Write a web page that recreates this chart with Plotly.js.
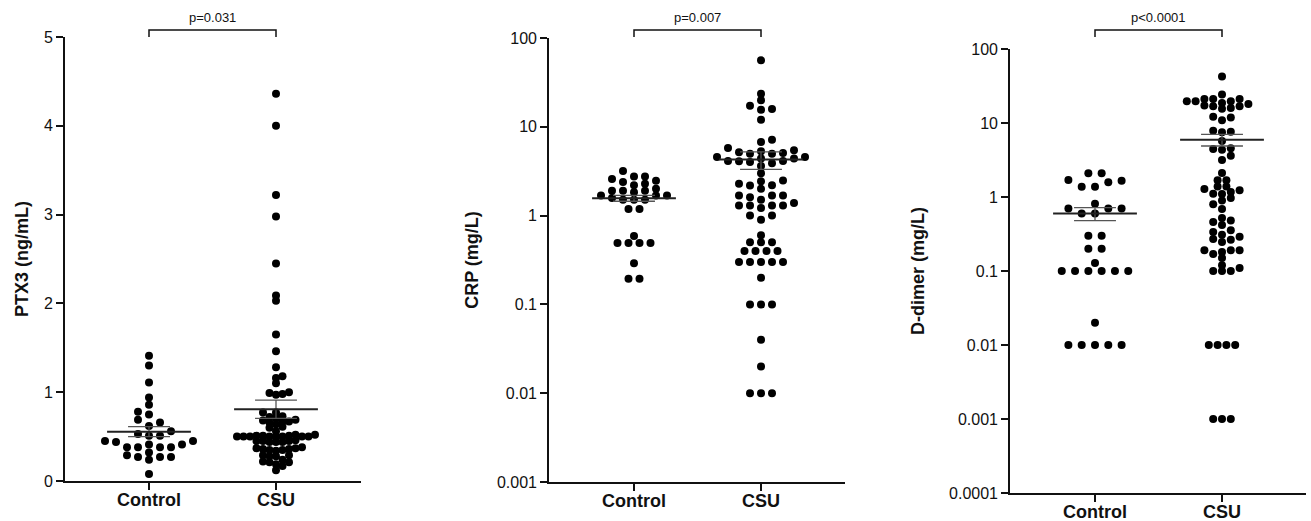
<!DOCTYPE html>
<html>
<head>
<meta charset="utf-8">
<script src="https://cdn.plot.ly/plotly-3.0.1.min.js"></script>
<style>html,body{margin:0;padding:0;background:#fff;}#chart{width:1311px;height:521px;}</style>
</head>
<body>
<div id="chart"></div>
<script>
// ---------------- data ----------------
const groups = ["Control", "CSU"];

const ptx3Control = [1.41, 1.30, 1.11, 0.94, 0.86, 0.78, 0.75, 0.69, 0.66, 0.62, 0.56, 0.53, 0.51, 0.51, 0.45, 0.45, 0.44, 0.41, 0.41, 0.38, 0.38, 0.38, 0.38, 0.32, 0.29, 0.27, 0.27, 0.27, 0.24, 0.08];
const ptx3CSU = [4.36, 4.00, 3.22, 2.98, 2.45, 2.09, 2.03, 1.65, 1.46, 1.28, 1.18, 1.16, 1.10, 1.00, 0.99, 0.98, 0.97, 0.77, 0.77, 0.73, 0.72, 0.71, 0.69, 0.68, 0.67, 0.67, 0.66, 0.64, 0.61, 0.60, 0.56,
  0.52, 0.52, 0.51, 0.51, 0.51, 0.50, 0.50, 0.50, 0.50, 0.50, 0.50, 0.50, 0.50,
  0.46, 0.45, 0.45, 0.45, 0.44, 0.44, 0.44,
  0.38, 0.37, 0.37, 0.36, 0.36, 0.35, 0.35, 0.34,
  0.29, 0.29, 0.28, 0.28,
  0.24, 0.22, 0.21, 0.21, 0.19, 0.17, 0.12];

const crpControl = [3.18, 2.76, 2.76, 2.58, 2.47, 2.39, 2.29, 2.19, 2.01, 1.91, 1.91, 1.91, 1.83, 1.68, 1.68, 1.68, 1.58, 1.51, 1.51, 1.51, 1.19, 1.19, 0.59, 0.49, 0.49, 0.49, 0.49, 0.29, 0.195, 0.195];
const crpCSU = [56, 23.6, 19.9, 17.3, 15.9, 15.6, 12.0, 7.16, 6.74, 5.77, 5.43, 5.3, 5.17, 5.07, 4.98, 4.98, 4.57, 4.57, 4.39, 4.39, 4.12, 4.12, 4.09, 4.02, 3.88, 3.62, 3.0,
  2.49, 2.43, 2.29, 2.19, 2.18, 2.0, 1.68, 1.68, 1.68, 1.61, 1.51, 1.39, 1.30, 1.30, 1.30, 1.30, 1.22, 1.0, 1.0, 0.9,
  0.6, 0.5, 0.5, 0.5, 0.4, 0.4, 0.4, 0.4, 0.3, 0.3, 0.3, 0.3, 0.3, 0.2, 0.1, 0.1, 0.1, 0.04, 0.02, 0.01, 0.01, 0.01];

const ddControl = [2.09, 2.09, 1.7, 1.66, 1.58, 1.38, 1.38, 0.81, 0.7, 0.7, 0.7, 0.6, 0.6, 0.3, 0.3, 0.2, 0.2, 0.128, 0.1, 0.1, 0.1, 0.1, 0.1, 0.1, 0.02, 0.01, 0.01, 0.01, 0.01, 0.01];
const ddCSU = [42.6, 24.2, 21.1, 21.1, 21.1, 19.6, 19.6, 19.6, 18.6, 18.1, 17.3, 16.9, 16.9, 15.9, 15.6, 12.1, 11.9, 10.9, 7.87, 7.63, 7.47, 5.7, 4.55, 4.46, 4.36, 3.62, 3.17, 2.11,
  1.68, 1.68, 1.39, 1.39, 1.28, 1.23, 1.17, 1.11, 1.10, 0.97, 0.9, 0.8, 0.69, 0.52, 0.48, 0.46, 0.42, 0.355, 0.336, 0.31, 0.29, 0.27, 0.265, 0.246,
  0.19, 0.19, 0.19, 0.18, 0.17, 0.15, 0.12, 0.11, 0.1, 0.1, 0.1, 0.01, 0.01, 0.01, 0.01, 0.001, 0.001, 0.001];

// mean and SEM
const ptx3Mean = [0.556, 0.808], ptx3Sem = [0.056, 0.103];
const crpMean = [1.57, 4.27], crpSem = [0.12, 0.95];
const ddMean = [0.60, 5.96], ddSem = [0.12, 1.07];

const pValues = ["p=0.031", "p=0.007", "p<0.0001"];
const yTitles = ["PTX3 (ng/mL)", "CRP (mg/L)", "D-dimer (mg/L)"];
const logTicks = [0.0001, 0.001, 0.01, 0.1, 1, 10, 100];
const logTickText = ["0.0001", "0.001", "0.01", "0.1", "1", "10", "100"];

// ---------------- layout geometry ----------------
const W = 1311, H = 521;
const plotH = 444;           // plot height in px
const pxPerCat = 127;        // px between categories
const FONT = "Liberation Sans, Arial, Helvetica, sans-serif";

// Prism-like scatter-dot arrangement: offsets on a half-spacing grid, computed in pixels
function swarm(values, yPx, d, hy) {
  const n = values.length;
  const order = values.map((v, i) => i).sort((a, b) => values[a] - values[b]);
  const xs = new Array(n).fill(0), ys = values.map(yPx);
  const placedIdx = [];
  const collides = (x, y, skip) => {
    for (const j of placedIdx) {
      if (skip && skip.has(j)) continue;
      if (Math.abs(ys[j] - y) < hy && Math.abs(xs[j] - x) < d * 0.99) return true;
    }
    return false;
  };
  order.forEach(i => {
    const y = ys[i];
    let sum = 0;
    placedIdx.forEach(j => { if (Math.abs(ys[j] - y) < 2 * d) sum += xs[j]; });
    const pref = sum > 0 ? -1 : 1;
    for (let s = 0; s < 400; s++) {
      const cands = s === 0 ? [0] : [pref * s, -pref * s];
      let found = false;
      for (const c of cands) {
        const x = c * d / 2;
        if (!collides(x, y)) { xs[i] = x; found = true; break; }
      }
      if (found) break;
    }
    placedIdx.push(i);
  });
  // re-centre groups of identical values
  const byVal = {};
  order.forEach(i => { (byVal[values[i]] = byVal[values[i]] || []).push(i); });
  Object.values(byVal).forEach(g => {
    if (g.length < 2) return;
    const mean = g.reduce((a, i) => a + xs[i], 0) / g.length;
    const shift = -Math.round(mean / (d / 2)) * (d / 2);
    if (shift === 0) return;
    const skip = new Set(g);
    const ok = g.every(i => !collides(xs[i] + shift, ys[i], skip));
    if (ok) g.forEach(i => { xs[i] += shift; });
  });
  return xs;
}

const panels = [
  {data: [ptx3Control, ptx3CSU], mean: ptx3Mean, sem: ptx3Sem, yPx: v => v * plotH / 5, d: [11, 6.5], hy: [7, 4.5], ax: ""},
  {data: [crpControl, crpCSU], mean: crpMean, sem: crpSem, yPx: v => (Math.log10(v) + 3) * plotH / 5, d: [11, 11], hy: [6.5, 6.5], ax: "2"},
  {data: [ddControl, ddCSU], mean: ddMean, sem: ddSem, yPx: v => (Math.log10(v) + 4) * plotH / 6, d: [13.3, 8.8], hy: [7, 5.5], ax: "3"}
];

const traces = [];
panels.forEach(p => {
  const xa = "x" + p.ax, ya = "y" + p.ax;
  p.data.forEach((vals, g) => {
    const offs = swarm(vals, p.yPx, p.d[g], p.hy[g]);
    traces.push({
      type: "scatter", mode: "markers", xaxis: xa, yaxis: ya,
      x: offs.map(o => g + o / pxPerCat), y: vals,
      marker: {color: "#000", size: 8, line: {width: 0}},
      hoverinfo: "y", showlegend: false
    });
  });
  // SEM
  const sx = [], sy = [];
  p.mean.forEach((m, g) => {
    const hi = m + p.sem[g], lo = m - p.sem[g];
    sx.push(g - 0.165, g + 0.165, null, g - 0.165, g + 0.165, null, g, g, null);
    sy.push(hi, hi, null, lo, lo, null, lo, hi, null);
  });
  traces.push({type: "scatter", mode: "lines", xaxis: xa, yaxis: ya, x: sx, y: sy,
    line: {color: "#555", width: 1.3}, hoverinfo: "skip", showlegend: false});
  // mean
  const mx = [], my = [];
  p.mean.forEach((m, g) => { mx.push(g - 0.33, g + 0.33, null); my.push(m, m, null); });
  traces.push({type: "scatter", mode: "lines", xaxis: xa, yaxis: ya, x: mx, y: my,
    line: {color: "#222", width: 2}, hoverinfo: "skip", showlegend: false});
});

// axes
const xDomains = [[65 / W, 361 / W], [549 / W, 845 / W], [1010 / W, 1306 / W]];
const yDomains = [[40 / H, 484 / H], [39 / H, 483 / H], [28 / H, 472 / H]];
const xRanges = [[-84 / pxPerCat, 1 + 85 / pxPerCat], [-85 / pxPerCat, 1 + 84 / pxPerCat], [-85 / pxPerCat, 1 + 84 / pxPerCat]];
const titleStandoff = [11, 14, 20];

const layout = {
  width: W, height: H,
  margin: {l: 0, r: 0, t: 0, b: 0},
  paper_bgcolor: "#fff", plot_bgcolor: "#fff",
  showlegend: false,
  font: {family: FONT, color: "#111"},
  shapes: [], annotations: []
};

panels.forEach((p, i) => {
  const sfx = p.ax;
  layout["xaxis" + sfx] = {
    domain: xDomains[i], range: xRanges[i], anchor: "y" + sfx,
    tickvals: [0, 1], ticktext: groups,
    tickfont: {family: FONT, size: 18, color: "#111", weight: "bold"},
    ticks: "outside", ticklen: 7, tickwidth: 1.8, tickcolor: "#111",
    ticklabelstandoff: -5,
    showline: true, linecolor: "#111", linewidth: 1.8,
    showgrid: false, zeroline: false, fixedrange: true
  };
  const ya = {
    domain: yDomains[i], anchor: "x" + sfx,
    ticks: "outside", ticklen: 7, tickwidth: 1.8, tickcolor: "#111",
    showline: true, linecolor: "#111", linewidth: 1.8,
    showgrid: false, zeroline: false, fixedrange: true,
    tickfont: {family: FONT, size: 16, color: "#111"},
    title: {text: yTitles[i], font: {family: FONT, size: 18, color: "#111", weight: "bold"}, standoff: titleStandoff[i]}
  };
  if (i === 0) {
    ya.range = [0, 5]; ya.tickvals = [0, 1, 2, 3, 4, 5];
  } else if (i === 1) {
    ya.type = "log"; ya.range = [-3, 2];
    ya.tickvals = logTicks.slice(1); ya.ticktext = logTickText.slice(1);
  } else {
    ya.type = "log"; ya.range = [-4, 2];
    ya.tickvals = logTicks; ya.ticktext = logTickText;
  }
  layout["yaxis" + sfx] = ya;

  // significance bracket
  const yb = (H - 30) / H, yt = (H - 37) / H;
  const xr = "x" + sfx;
  layout.shapes.push({type: "path", xref: xr, yref: "paper",
    path: `M0,${yt} L0,${yb} L1,${yb} L1,${yt}`,
    line: {color: "#111", width: 1.5}});
  layout.annotations.push({xref: xr, yref: "paper", x: 0.5, y: (H - 17) / H,
    text: pValues[i], showarrow: false, xanchor: "center", yanchor: "middle",
    font: {family: FONT, size: 13, color: "#111"}});
});

Plotly.newPlot("chart", traces, layout, {displayModeBar: false, staticPlot: true});
</script>
</body>
</html>
